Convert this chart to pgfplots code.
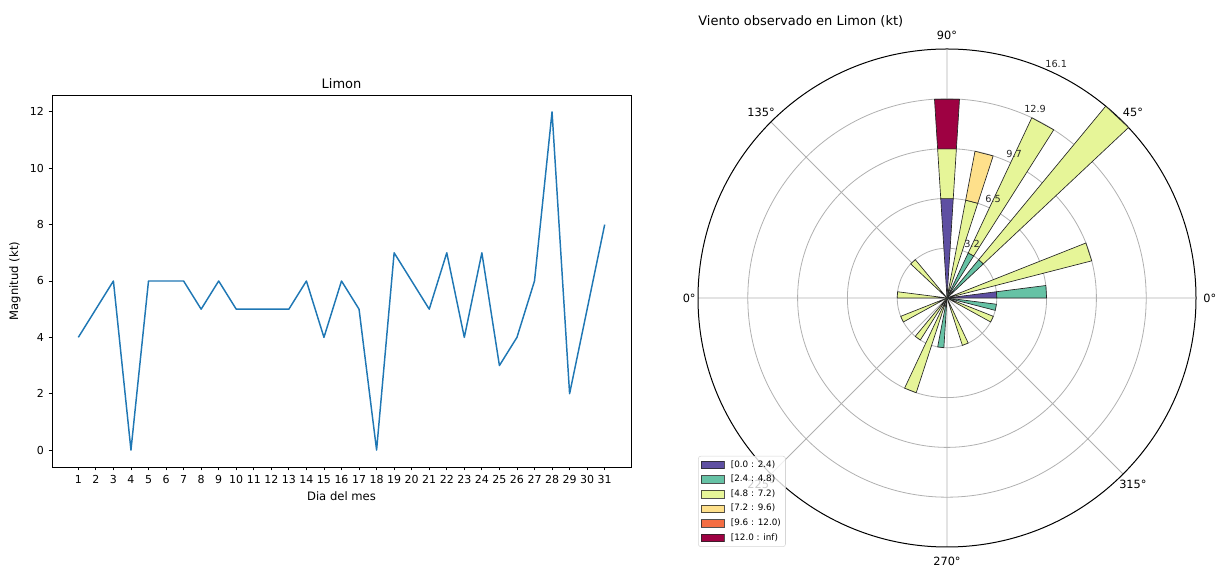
\documentclass[border=0pt]{standalone}
\usepackage{fontspec}
\setmainfont{DejaVu Sans}
\usepackage{pgfplots}
\pgfplotsset{compat=1.18}
\usepgfplotslibrary{polar}

\definecolor{mplblue}{HTML}{1F77B4}
\definecolor{wr0}{HTML}{5E4FA2}
\definecolor{wr1}{HTML}{66C2A5}
\definecolor{wr2}{HTML}{E6F598}
\definecolor{wr3}{HTML}{FEE08B}
\definecolor{wr4}{HTML}{F46D43}
\definecolor{wr5}{HTML}{9E0142}
\definecolor{gridgray}{HTML}{B0B0B0}

\newcommand{\fs}[1]{\fontsize{#1}{#1}\selectfont}

% one stacked piece of the rose: direction (deg), from, to (% of days), colour
\newcommand{\seg}[4]{%
  \pgfmathsetmacro{\ta}{#1-3.6}%
  \pgfmathsetmacro{\tb}{#1+3.6}%
  \edef\next{\noexpand\addplot[forget plot, fill=#4, draw=black!85, line width=0.5pt]
    coordinates {(\ta,#2) (\ta,#3) (\tb,#3) (\tb,#2)} --cycle;}%
  \next}

\begin{document}
\begin{tikzpicture}
\path (0,0) rectangle (918.75pt,425.25pt);

% daily wind speed
\begin{axis}[
  at={(39pt,75pt)}, anchor=south west,
  width=434.25pt, height=279pt, scale only axis,
  xmin=-0.5, xmax=32.5, ymin=-0.6, ymax=12.6,
  xtick={1,...,31}, ytick={0,2,...,12},
  tick align=outside, xtick pos=bottom, ytick pos=left,
  major tick length=2.6pt,
  tick style={black, line width=0.6pt},
  axis line style={line width=0.6pt},
  ticklabel style={font=\fs{8.25}},
  /pgf/number format/assume math mode=true,
  title={Limon},
  title style={font=\fs{9.75}, at={(0.5,1)}, anchor=south, inner sep=1pt, yshift=-2.5pt},
  xlabel={Dia del mes},
  xlabel style={font=\fs{8.7}, at={(0.5,-0.078)}, anchor=center},
  ylabel={Magnitud (kt)},
  ylabel style={font=\fs{8.7}, at={(-0.064,0.5)}, anchor=center},
]
\addplot[mplblue, line width=1.1pt, line join=round] coordinates {
  (1,4) (2,5) (3,6) (4,0) (5,6) (6,6) (7,6) (8,5) (9,6) (10,5)
  (11,5) (12,5) (13,5) (14,6) (15,4) (16,6) (17,5) (18,0) (19,7) (20,6)
  (21,5) (22,7) (23,4) (24,7) (25,3) (26,4) (27,6) (28,12) (29,2) (30,5)
  (31,8)};
\end{axis}

% wind rose
\begin{polaraxis}[
  at={(710.25pt,201.75pt)}, anchor=center,
  width=373.5pt, height=373.5pt, scale only axis,
  xmin=0, xmax=360, ymin=0, ymax=16.129,
  xtick={0,45,...,315}, ytick={3.226,6.452,9.677,12.903},
  xticklabels={}, yticklabels={},
  xticklabel=\empty, yticklabel=\empty,
  grid=major, major grid style={gridgray, line width=0.6pt},
  major tick length=0pt,
  x axis line style={black, line width=0.75pt},
  y axis line style={draw=none},
  clip=false,
  legend cell align=left,
  legend style={at={(0,0)}, anchor=south west, font=\fs{6.6},
    draw=black!20, fill=white, fill opacity=0.8, draw opacity=0.8, text opacity=1,
    rounded corners=2pt, inner xsep=2pt, inner ysep=2pt, row sep=1.75pt,
    nodes={inner sep=1.5pt, text height=4.8pt, text depth=1.4pt},
    /tikz/every odd column/.append style={column sep=3.5pt}},
]
\addlegendimage{area legend, sharp corners, fill=wr0, draw=black!85, fill opacity=1}
\addlegendentry{{[0.0 : 2.4)}}
\addlegendimage{area legend, sharp corners, fill=wr1, draw=black!85, fill opacity=1}
\addlegendentry{{[2.4 : 4.8)}}
\addlegendimage{area legend, sharp corners, fill=wr2, draw=black!85, fill opacity=1}
\addlegendentry{{[4.8 : 7.2)}}
\addlegendimage{area legend, sharp corners, fill=wr3, draw=black!85, fill opacity=1}
\addlegendentry{{[7.2 : 9.6)}}
\addlegendimage{area legend, sharp corners, fill=wr4, draw=black!85, fill opacity=1}
\addlegendentry{{[9.6 : 12.0)}}
\addlegendimage{area legend, sharp corners, fill=wr5, draw=black!85, fill opacity=1}
\addlegendentry{{[12.0 : inf)}}

\seg{90}{0}{6.452}{wr0}
\seg{90}{6.452}{9.677}{wr2}
\seg{90}{9.677}{12.903}{wr5}
\seg{75.6}{0}{6.452}{wr2}
\seg{75.6}{6.452}{9.677}{wr3}
\seg{61.2}{0}{3.226}{wr1}
\seg{61.2}{3.226}{12.903}{wr2}
\seg{46.8}{0}{3.226}{wr1}
\seg{46.8}{3.226}{16.129}{wr2}
\seg{18}{0}{9.677}{wr2}
\seg{3.6}{0}{3.226}{wr0}
\seg{3.6}{3.226}{6.452}{wr1}
\seg{133.2}{0}{3.226}{wr2}
\seg{176.4}{0}{3.226}{wr2}
\seg{205.2}{0}{3.226}{wr2}
\seg{234}{0}{3.226}{wr2}
\seg{248.4}{0}{6.452}{wr2}
\seg{262.8}{0}{3.226}{wr1}
\seg{291.6}{0}{3.226}{wr2}
\seg{334.8}{0}{3.226}{wr2}
\seg{349.2}{0}{3.226}{wr1}

\node[font=\fs{7.3}, text=black!85] at (axis cs:65,3.83) {3.2};
\node[font=\fs{7.3}, text=black!85] at (axis cs:65,7.05) {6.5};
\node[font=\fs{7.3}, text=black!85] at (axis cs:65,10.28) {9.7};
\node[font=\fs{7.3}, text=black!85] at (axis cs:65,13.5) {12.9};
\node[font=\fs{7.3}, text=black!85] at (axis cs:65,16.73) {16.1};

\node[font=\fs{8.5}] at (axis cs:0,17.03) {0°};
\node[font=\fs{8.5}] at (axis cs:45,17.03) {45°};
\node[font=\fs{8.5}] at (axis cs:90,17.03) {90°};
\node[font=\fs{8.5}] at (axis cs:135,17.03) {135°};
\node[font=\fs{8.5}] at (axis cs:180,16.7) {0°};
\node[font=\fs{8.5}] at (axis cs:225,17.03) {225°};
\node[font=\fs{8.5}] at (axis cs:270,17.03) {270°};
\node[font=\fs{8.5}] at (axis cs:315,17.03) {315°};
\end{polaraxis}

\node[anchor=base west, inner sep=0pt, font=\fs{9.75}] at (523.5pt,405.75pt) {Viento observado en Limon (kt)};
\end{tikzpicture}
\end{document}
